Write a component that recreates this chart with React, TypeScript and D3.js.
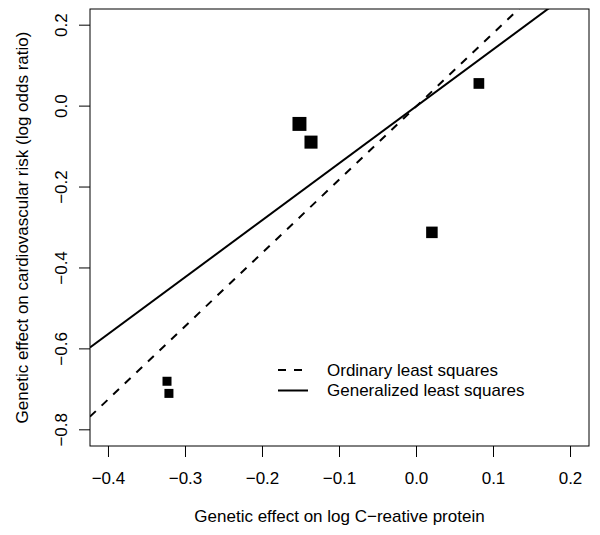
import React from "react";
import * as d3 from "d3";

// ---- data ----
const crpEffect = [-0.152, -0.137, 0.020, 0.081, -0.324, -0.3215];
const riskEffect = [-0.044, -0.089, -0.312, 0.056, -0.68, -0.71];
const weights = [1.55, 1.45, 1.28, 1.19, 1.0, 1.0];
const xTicks = [-0.4, -0.3, -0.2, -0.1, 0.0, 0.1, 0.2];
const yTicks = [-0.8, -0.6, -0.4, -0.2, 0.0, 0.2];
const fitNames = ["Ordinary least squares", "Generalized least squares"];
const fitSlopes = [1.81, 1.407];
const fitIntercepts = [0, 0];
const fitDashes = ["8,8", "none"];
const xLabel = "Genetic effect on log C\u2212reative protein";
const yLabel = "Genetic effect on cardiovascular risk (log odds ratio)";

const fmt = (v: number) => {
  const s = v.toFixed(1);
  return s.startsWith("-") ? "\u2212" + s.slice(1) : s;
};

export default function App() {
  const W = 600, H = 535;
  const L = 90, R = 589, T = 9, B = 446;
  const x = d3.scaleLinear().domain([-0.424, 0.224]).range([L, R]);
  const y = d3.scaleLinear().domain([-0.84, 0.24]).range([B, T]);
  const sz = d3.scaleLinear().domain([0, 1]).range([0, 9]);
  const font = "'Liberation Sans', Arial, Helvetica, sans-serif";
  const fs = 17;
  const [x0, x1] = x.domain();
  const lineGen = d3.line<[number, number]>().x(d => x(d[0])).y(d => y(d[1]));

  return (
    <svg width={W} height={H} style={{ position: "absolute", left: 0, top: 0, background: "#fff" }}
      fontFamily={font}>
      <defs>
        <clipPath id="plotclip">
          <rect x={L} y={T} width={R - L} height={B - T} />
        </clipPath>
      </defs>
      <rect x={0} y={0} width={W} height={H} fill="#fff" />
      {/* fit lines */}
      <g clipPath="url(#plotclip)">
        {fitSlopes.map((s, i) => (
          <path key={i}
            d={lineGen([[x0, fitIntercepts[i] + s * x0], [x1, fitIntercepts[i] + s * x1]]) || ""}
            stroke="#000" strokeWidth={2} fill="none"
            strokeDasharray={fitDashes[i] === "none" ? undefined : fitDashes[i]} />
        ))}
      </g>
      {/* points */}
      {crpEffect.map((cx, i) => {
        const s = sz(weights[i]);
        return <rect key={i} x={x(cx) - s / 2} y={y(riskEffect[i]) - s / 2} width={s} height={s} fill="#000" />;
      })}
      {/* box */}
      <rect x={L} y={T} width={R - L} height={B - T} fill="none" stroke="#000" strokeWidth={1} />
      {/* x axis */}
      {xTicks.map((t, i) => (
        <g key={i}>
          <line x1={x(t)} x2={x(t)} y1={B} y2={B + 11} stroke="#000" strokeWidth={1} />
          <text x={x(t)} y={484} fontSize={fs} textAnchor="middle" fill="#000">{fmt(t)}</text>
        </g>
      ))}
      {/* y axis */}
      {yTicks.map((t, i) => (
        <g key={i}>
          <line x1={L - 11} x2={L} y1={y(t)} y2={y(t)} stroke="#000" strokeWidth={1} />
          <text transform={`translate(67,${y(t)}) rotate(-90)`} fontSize={fs} textAnchor="middle" fill="#000">{fmt(t)}</text>
        </g>
      ))}
      {/* axis titles */}
      <text x={(L + R) / 2} y={522} fontSize={fs} textAnchor="middle" fill="#000">{xLabel}</text>
      <text transform={`translate(28,${(T + B) / 2}) rotate(-90)`} fontSize={fs} textAnchor="middle" fill="#000">{yLabel}</text>
      {/* legend */}
      {fitNames.map((n, i) => (
        <g key={i}>
          <line x1={278} x2={308} y1={370 + i * 20.5} y2={370 + i * 20.5} stroke="#000" strokeWidth={2}
            strokeDasharray={fitDashes[i] === "none" ? undefined : fitDashes[i]} />
          <text x={327} y={370 + i * 20.5} dy="0.35em" fontSize={fs} fill="#000">{n}</text>
        </g>
      ))}
    </svg>
  );
}
